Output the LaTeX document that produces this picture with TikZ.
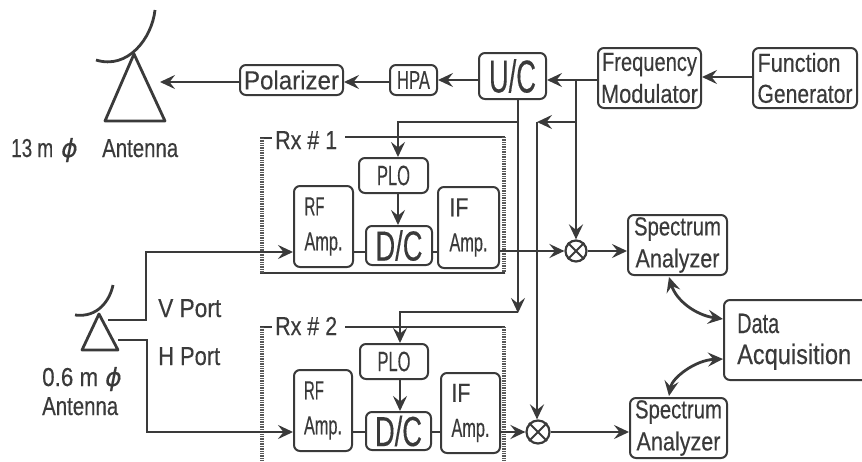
\documentclass[tikz,border=0pt]{standalone}
\usepackage{graphicx}
\usepackage{fontspec}
\setmainfont[FakeBold=0.35]{Liberation Sans}
\newfontfamily\phifont[FakeBold=0.3]{DejaVu Sans}
\usetikzlibrary{arrows.meta,calc}
\definecolor{ink}{HTML}{3A3A3A}
\newcommand{\fw}[2]{\resizebox{#1pt}{\height}{#2}}
\newcommand{\fs}[2]{\fontsize{#1}{#2}\selectfont}
\newcommand{\bx}[7][]{\node[box,minimum width={(#5-#3)*1pt},minimum height={(#6-#4)*1pt},#1] (#2) at ({(#3+#5)/2},{(#4+#6)/2}) {#7};}
\tikzset{
  box/.style={draw=ink,line width=2pt,rounded corners=6pt,inner sep=0pt,text=ink,align=center},
  conn/.style={draw=ink,line width=2.8pt},
  arr/.style={conn,-{Stealth[length=15pt,width=14pt,inset=5.5pt]}},
  dbl/.style={conn,{Stealth[length=15pt,width=14pt,inset=5.5pt]}-{Stealth[length=15pt,width=14pt,inset=5.5pt]}},
  txt/.style={inner sep=0pt,text=ink,anchor=base west},
  mix/.style={draw=ink,line width=2.2pt,circle,inner sep=0pt,minimum size=#1},
  dotside/.style={draw=ink!85,line width=3.5pt,dash pattern=on 1pt off 0.7pt},
  rxline/.style={draw=ink,line width=2.2pt}
}
\begin{document}
\begin{tikzpicture}[x=1pt,y=-1pt]
\useasboundingbox (0,0) rectangle (862,461);
\clip (0,0) rectangle (862,461);
% big antenna
\draw[conn] (155,10) .. controls (152,38) and (128,70) .. (96,60);
\draw[conn,line join=round] (134,54) -- (105,121) -- (165,121) -- cycle;
\coordinate (bigant) at (160,82);
% small antenna
\draw[conn] (113,285) .. controls (110,300) and (98,318) .. (75,315);
\draw[conn,line join=round] (99,314) -- (82,350) -- (118,350) -- cycle;
\coordinate (vs) at (108,320);
\coordinate (hs) at (118,340);
% boxes top row
\bx{pol}{240}{65}{343}{95}{\fs{26}{26}\fw{95}{Polarizer}}
\bx{hpa}{390}{65}{437}{95}{\fs{26}{26}\fw{33}{HPA}}
\bx{uc}{479}{53}{546}{99}{\fs{46}{46}\fw{47}{U/C}}
\bx[font={\fs{26}{32}}]{fm}{598}{48}{701}{108}{\fw{95}{Frequency}\\\fw{97}{Modulator}}
\bx[font={\fs{26}{31}},align=left]{fg}{753}{48}{857}{108}{\fw{83}{Function}\\\fw{95}{Generator}}
% Rx 1
\bx{ploa}{359}{158}{428}{193}{\fs{28}{28}\fw{33}{PLO}}
\bx[font={\fs{26}{35}},align=left]{rfa}{294}{186}{353}{267}{\fw{20}{RF}\\\fw{38}{Amp.}}
\bx{dca}{366}{226}{432}{265}{\fs{42}{42}\fw{47}{D/C}}
\bx[font={\fs{26}{35}},align=left]{ifa}{438}{187}{499}{268}{\fw{19}{IF}\\\fw{38}{Amp.}}
% Rx 2
\bx{plob}{360}{344}{428}{379}{\fs{28}{28}\fw{33}{PLO}}
\bx[font={\fs{26}{35}},align=left]{rfb}{294}{370}{352}{451}{\fw{20}{RF}\\\fw{38}{Amp.}}
\bx{dcb}{366}{412}{431}{450}{\fs{42}{42}\fw{47}{D/C}}
\bx[font={\fs{26}{35}},align=left]{ifb}{441}{373}{500}{453}{\fw{19}{IF}\\\fw{38}{Amp.}}
% back end
\bx[font={\fs{26}{32}}]{saa}{628}{215}{727}{275}{\fw{87}{Spectrum}\\\fw{84}{Analyzer}}
\bx[font={\fs{26}{32}}]{sab}{630}{398}{727}{458}{\fw{87}{Spectrum}\\\fw{84}{Analyzer}}
\bx{da}{724}{300}{880}{380}{}
\node[txt] (datxt) at (737,333) {\fs{28}{28}\fw{42}{Data}};
\node[txt] (aqtxt) at (737,364) {\fs{28}{28}\fw{114}{Acquisition}};
% mixers
\node[mix=21pt] (ma) at (576,251) {};
\node[mix=23pt] (mb) at (538,432) {};
\draw[draw=ink,line width=1.8pt] (ma.45)--(ma.225) (ma.135)--(ma.315) (mb.45)--(mb.225) (mb.135)--(mb.315);
% labels
\node[txt] (ta) at (11,157) {\fs{26}{26}\fw{42}{13 m}};
\node[txt] (tb) at (61,157) {\fs{25}{25}\phifont\itshape ϕ};
\node[txt] (tc) at (102,157) {\fs{26}{26}\fw{76}{Antenna}};
\node[txt] (td) at (42,386) {\fs{26}{26}\fw{56}{0.6 m}};
\node[txt] (te) at (105,386) {\fs{25}{25}\phifont\itshape ϕ};
\node[txt] (tf) at (42,415) {\fs{26}{26}\fw{76}{Antenna}};
\node[txt] (tv) at (158,317) {\fs{26}{26}\fw{63}{V Port}};
\node[txt] (th) at (158,365) {\fs{26}{26}\fw{62}{H Port}};
\node[txt] (rxa) at (275,149) {\fs{26}{26}\fw{62}{Rx \# 1}};
\node[txt] (rxb) at (275,335) {\fs{26}{26}\fw{62}{Rx \# 2}};
% Rx frames
\draw[rxline] (260,138) -- (272,138);
\draw[rxline] (345,137) -- (505,137);
\draw[rxline] (260,273) -- (505,273);
\draw[dotside] (262,138) -- (262,273);
\draw[dotside] (504,137) -- (504,273);
\draw[rxline] (260,327) -- (272,327);
\draw[rxline] (345,327) -- (505,327);
\draw[dotside] (262,327) -- (262,461);
\draw[dotside] (504,327) -- (504,461);
% top chain
\draw[arr] (fg.west |- 0,77) -- (fm.east |- 0,77);
\draw[arr] (fm.west |- 0,80) -- (uc.east |- 0,80);
\draw[arr] (uc.west |- 0,80) -- (hpa.east |- 0,80);
\draw[arr] (hpa.west |- 0,82) -- (pol.east |- 0,82);
\draw[arr] (pol.west |- 0,82) -- (bigant);
% FM branch
\coordinate (j1) at (576,80);
\coordinate (j2) at (576,122);
\coordinate (j3) at (537,122);
\draw[arr] (j1) -- (ma.north);
\draw[arr] (j2) -- (j3);
\draw[arr] (j3) -- (j3 |- mb.north);
% U/C branch
\coordinate (u1) at (518,122);
\coordinate (u2) at (518,313);
\coordinate (k1) at (398,122);
\coordinate (k2) at (400,312);
\draw[arr] (uc.south -| u1) -- (u2);
\draw[arr] (u1) -- (k1) -- (k1 |- ploa.north);
\draw[arr] (u2 |- k2) -- (k2) -- (k2 |- plob.north);
% inside receivers
\draw[arr] (k1 |- ploa.south) -- (k1 |- dca.north);
\draw[arr] (k2 |- plob.south) -- (k2 |- dcb.north);
\draw[conn] (rfa.east |- 0,252) -- (dca.west |- 0,252);
\draw[conn] (dca.east |- 0,252) -- (ifa.west |- 0,252);
\draw[conn] (rfb.east |- 0,432) -- (dcb.west |- 0,432);
\draw[conn] (dcb.east |- 0,432) -- (ifb.west |- 0,432);
% outputs
\draw[arr] (ifa.east |- 0,251) -- (ma.west);
\draw[arr] (ifb.east |- 0,432) -- (mb.west);
\draw[arr] (ma.east) -- (saa.west |- 0,251);
\draw[arr] (mb.east) -- (sab.west |- 0,432);
% antenna ports
\draw[arr] (vs) -- (146,320) -- (146,252) -- (rfa.west |- 0,252);
\draw[arr] (hs) -- (147,340) -- (147,432) -- (rfb.west |- 0,432);
% data acquisition
\coordinate (d1) at (669,277);
\coordinate (d2) at (669,396);
\draw[dbl] (d1) .. controls (676,300) and (695,315) .. (da.west |- 0,319);
\draw[dbl] (d2) .. controls (672,378) and (695,360) .. (da.west |- 0,359);
\end{tikzpicture}
\end{document}
